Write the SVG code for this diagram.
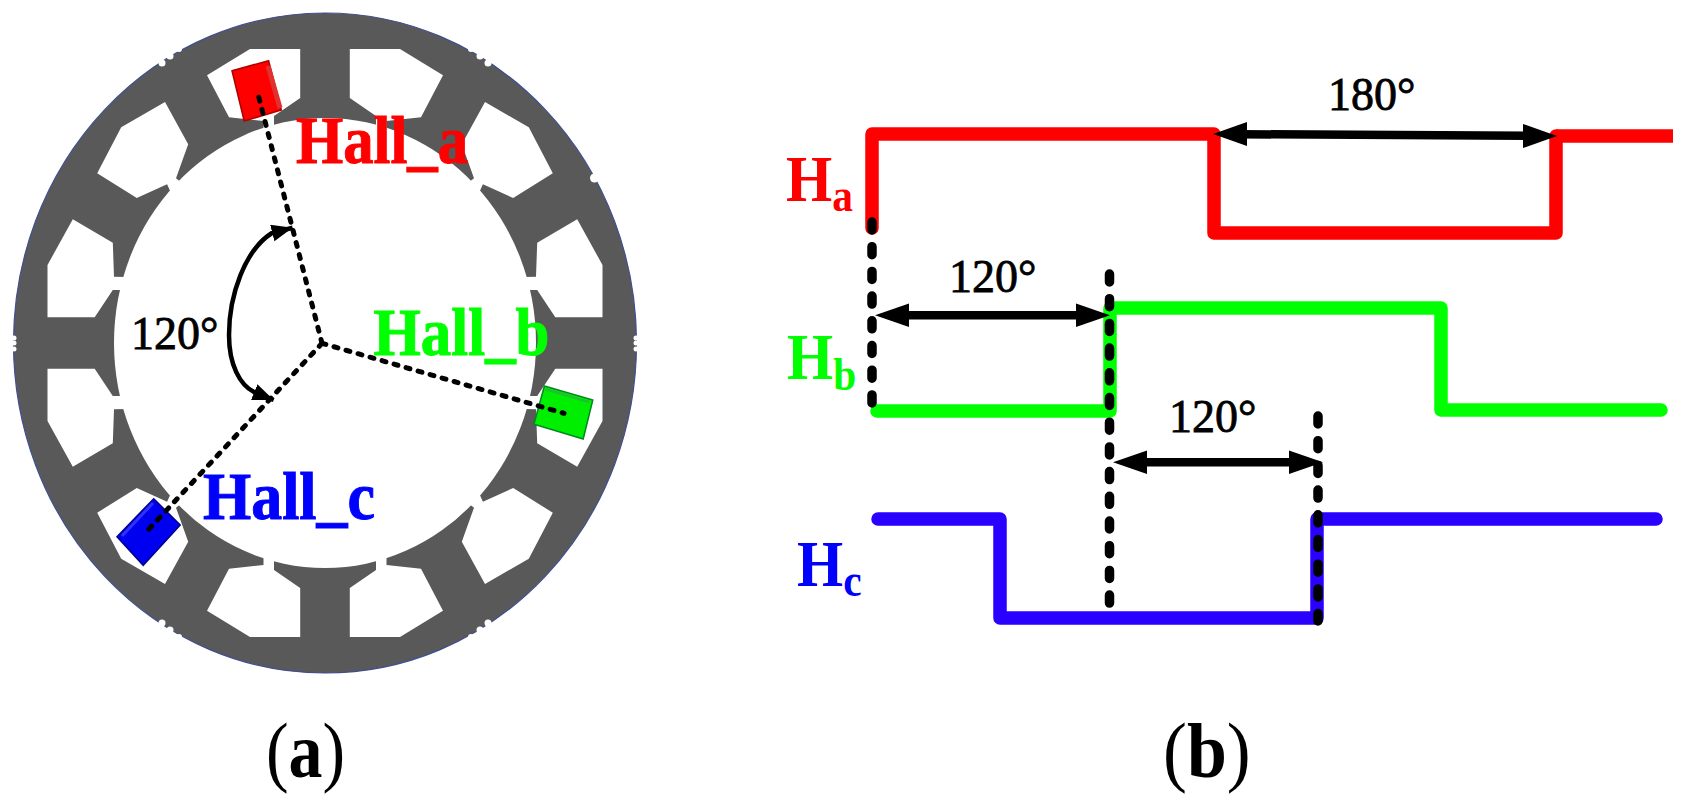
<svg xmlns="http://www.w3.org/2000/svg" width="1686" height="806" viewBox="0 0 1686 806">
<style>
.serif{font-family:"Liberation Serif","Times New Roman",serif}
.lbl{font-weight:bold;font-size:68px;stroke-width:1}
.deg{font-size:46px;fill:#000;stroke:#000;stroke-width:.8}
.wave{fill:none;stroke-width:13.5;stroke-linejoin:round;stroke-linecap:round}
.vdash{fill:none;stroke:#000;stroke-width:9.5;stroke-linecap:round;stroke-dasharray:8 16.7}
.rdash{fill:none;stroke:#000;stroke-width:5;stroke-linecap:round;stroke-dasharray:4 8.5}
.dim{fill:none;stroke:#000;stroke-width:8.5}
.head{fill:#000}
.slot{fill:#fff}
.notch{fill:#fff}
.sub{font-weight:bold;font-size:46px}
.hsym{font-weight:bold;font-size:66px}
.panel{font-size:78px;fill:#000}
</style>
<defs>
<marker id="ah2" markerUnits="userSpaceOnUse" markerWidth="24" markerHeight="20" refX="21" refY="8.5" orient="auto-start-reverse"><polygon points="0,0 21,8.5 0,17" fill="#000"/></marker>
<g id="q">
<polygon class="slot" points="24.8,-294 75,-294 118,-267.7 96,-225.7 61.5,-222 61.5,-205 51,-205 51,-227 24.8,-245"/>
<polygon class="slot" points="160,-241 203.8,-215.7 227.8,-169.7 188.2,-145 157.9,-158.7 154,-150 143,-160 149,-164.7 136.8,-198.7"/>
<polygon class="slot" points="252.2,-123.7 277.5,-78 277.5,-25.7 230.3,-25.7 212.2,-53 200,-53 200,-66 211,-66.3 212.2,-100.3"/>
</g>
<g id="nt">
<circle class="notch" cx="-163" cy="-280" r="3.5"/>
<circle class="notch" cx="-155" cy="-287" r="3.5"/>
<circle class="notch" cx="-146" cy="-294" r="3"/>
</g>
</defs>
<rect width="1686" height="806" fill="#fff"/>

<g id="stator">
<ellipse cx="325" cy="343" rx="311.5" ry="330" fill="#595959" stroke="#3f4f90" stroke-width="1.2"/>
<ellipse cx="325" cy="343" rx="211" ry="225" fill="#fff"/>
<g transform="translate(325,343)">
<use href="#q"/>
<use href="#q" transform="scale(-1,1)"/>
<use href="#q" transform="scale(1,-1)"/>
<use href="#q" transform="scale(-1,-1)"/>
<use href="#nt"/>
<use href="#nt" transform="scale(-1,1)"/>
<use href="#nt" transform="scale(1,-1)"/>
<use href="#nt" transform="scale(-1,-1)"/>
</g>
<circle class="notch" cx="594.5" cy="178" r="4.5"/>
<circle class="notch" cx="14" cy="338" r="2.5"/>
<circle class="notch" cx="14" cy="343" r="2.5"/>
<circle class="notch" cx="14" cy="349" r="2.5"/>
<circle class="notch" cx="636" cy="338" r="2.5"/>
<circle class="notch" cx="636" cy="343" r="2.5"/>
<circle class="notch" cx="636" cy="349" r="2.5"/>
</g>

<g id="hall-a-sensor"><polygon points="232,70.7 268.6,60.7 281.3,110 244.2,121" fill="#ff0000" stroke="#b00000" stroke-width="1.5"/><path d="M268,66 L280,108" stroke="#e03030" stroke-width="5" fill="none"/></g>
<g id="hall-b-sensor"><polygon points="544.4,386 592.8,400 583.2,439 533.9,424.3" fill="#00ee00" stroke="#008a20" stroke-width="1.5"/><path d="M545,389 L589,402" stroke="#20c030" stroke-width="2.5" fill="none"/></g>
<g id="hall-c-sensor"><polygon points="153.7,498.7 180.2,525 143.2,565.3 117,536.7" fill="#0000f0" stroke="#000090" stroke-width="1.5"/><path d="M153,503 L122,536" stroke="#3030ff" stroke-width="3" fill="none"/></g>

<g id="connectors">
<path class="rdash" d="M322,343.3 L256.8,89.3"/>
<path class="rdash" d="M322,343.3 L564,413.3"/>
<path class="rdash" d="M322,343.3 L146.5,531.7"/>
<path d="M292.6,227.7 L272,233 C245,250 229,295 229,335 C229,365 240,385 254,392 L273.7,400" fill="none" stroke="#000" stroke-width="4.5" marker-start="url(#ah2)" marker-end="url(#ah2)"/>
</g>

<g id="wave-a"><path class="wave" stroke="#ff0000" d="M872,228 V134 H1214 V233 H1556 V136"/><path d="M1556,136 H1673" stroke="#ff0000" stroke-width="13.5" fill="none"/></g>
<g id="wave-b"><path class="wave" stroke="#00ff00" d="M877,411 H1110 V308 H1441 V410 H1661"/></g>
<g id="wave-c"><path class="wave" stroke="#2a00ff" d="M878,519 H1000 V618 H1317 V519 H1656"/></g>

<g id="dims">
<path class="vdash" d="M872,222 V408"/>
<path class="vdash" d="M1109.5,274 V610"/>
<path class="vdash" d="M1318,416 V621"/>
<path class="dim" d="M900,315.3 H1085"/>
<polygon class="head" points="875,315.3 909,303.5 909,327"/>
<polygon class="head" points="1110,315.3 1076,303.5 1076,327"/>
<path class="dim" d="M1140,462.3 H1296"/>
<polygon class="head" points="1113,462.3 1147,450.5 1147,474"/>
<polygon class="head" points="1323,462.3 1289,450.5 1289,474"/>
<path class="dim" d="M1240,134.2 L1530,135.8"/>
<polygon class="head" points="1213,134 1247,122 1247,146"/>
<polygon class="head" points="1557,136 1523,124 1523,148"/>
</g>

<g id="labels" class="serif">
<text class="lbl" x="296" y="163" fill="#ff0000" stroke="#ff0000" textLength="172" lengthAdjust="spacingAndGlyphs">Hall_a</text>
<text class="lbl" x="373.5" y="355" fill="#00ff00" stroke="#00ff00" textLength="176" lengthAdjust="spacingAndGlyphs">Hall_b</text>
<text class="lbl" x="203" y="519" fill="#0000ff" stroke="#0000ff" textLength="172" lengthAdjust="spacingAndGlyphs">Hall_c</text>
<text class="deg" x="131" y="349">120°</text>
<text class="deg" x="949" y="291.7">120°</text>
<text class="deg" x="1169" y="432">120°</text>
<text class="deg" x="1328" y="110">180°</text>
<text transform="translate(786,201) scale(.9,1)" fill="#ff0000" class="hsym">H<tspan class="sub" dy="10">a</tspan></text>
<text transform="translate(787,379) scale(.9,1)" fill="#00ff00" class="hsym">H<tspan class="sub" dy="11">b</tspan></text>
<text transform="translate(797,586) scale(.9,1)" fill="#0000ff" class="hsym">H<tspan class="sub" dy="10">c</tspan></text>
<text class="panel" transform="translate(266,777) scale(.87,1)">(<tspan font-weight="bold">a</tspan>)</text>
<text class="panel" transform="translate(1163,777) scale(.92,1)">(<tspan font-weight="bold">b</tspan>)</text>
</g>
</svg>
